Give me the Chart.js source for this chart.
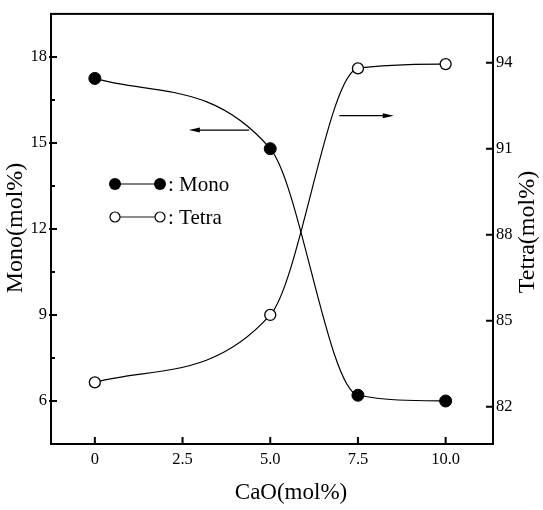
<!DOCTYPE html>
<html>
<head>
<meta charset="utf-8">
<script src="https://cdn.jsdelivr.net/npm/chart.js@4.4.1/dist/chart.umd.min.js"></script>
<style>
  html, body { margin: 0; padding: 0; background: #fff; }
  #wrap { width: 543px; height: 510px; }
</style>
</head>
<body>
<div id="wrap"><canvas id="caoChart" width="543" height="510"></canvas></div>
<script>
// CaO content (mol%)
const caoLevels = [0, 5.0, 7.5, 10.0];
// monoclinic fraction, left axis
const monoValues = [17.25, 14.8, 6.2, 6.0];
// tetragonal fraction, right axis
const tetraValues = [82.85, 85.2, 93.8, 93.95];

const xTicks = [0, 2.5, 5.0, 7.5, 10.0];
const xTickLabels = ['0', '2.5', '5.0', '7.5', '10.0'];
const monoTicks = [6, 9, 12, 15, 18];
const monoMinorTicks = [7.5, 10.5, 13.5, 16.5];
const tetraTicks = [82, 85, 88, 91, 94];

const serif = "'Liberation Serif', 'DejaVu Serif', serif";

function toPoints(xs, ys) {
  return xs.map((x, i) => ({ x: x, y: ys[i] }));
}

// Frame, inward ticks, arrows, legend and axis titles
const decorPlugin = {
  id: 'decor',
  afterDraw(chart) {
    const ctx = chart.ctx;
    const area = chart.chartArea;
    const xs = chart.scales.x, ys = chart.scales.y, ys1 = chart.scales.y1;
    ctx.save();
    ctx.strokeStyle = '#000';
    ctx.fillStyle = '#000';

    // box
    ctx.lineWidth = 2;
    ctx.strokeRect(area.left, area.top, area.right - area.left, area.bottom - area.top);

    // ticks
    ctx.lineWidth = 2;
    ctx.beginPath();
    xTicks.forEach(v => {
      const px = xs.getPixelForValue(v);
      ctx.moveTo(px, area.bottom);
      ctx.lineTo(px, area.bottom - 7);
    });
    monoTicks.forEach(v => {
      const py = ys.getPixelForValue(v);
      ctx.moveTo(area.left - 2, py);
      ctx.lineTo(area.left + 6, py);
    });
    monoMinorTicks.forEach(v => {
      const py = ys.getPixelForValue(v);
      ctx.moveTo(area.left, py);
      ctx.lineTo(area.left + 4, py);
    });
    tetraTicks.forEach(v => {
      const py = ys1.getPixelForValue(v);
      ctx.moveTo(area.right + 1, py);
      ctx.lineTo(area.right - 7, py);
    });
    ctx.stroke();

    // arrows pointing to the matching axis
    function arrow(x0, x1, py) {
      const p0 = xs.getPixelForValue(x0), p1 = xs.getPixelForValue(x1);
      const dir = p1 > p0 ? 1 : -1;
      ctx.lineWidth = 1.2;
      ctx.beginPath();
      ctx.moveTo(p0, py);
      ctx.lineTo(p1 - dir * 6, py);
      ctx.stroke();
      ctx.beginPath();
      ctx.moveTo(p1, py);
      ctx.lineTo(p1 - dir * 11, py - 2.5);
      ctx.lineTo(p1 - dir * 11, py + 2.5);
      ctx.closePath();
      ctx.fill();
    }
    arrow(4.4, 2.68, ys.getPixelForValue(15.45));
    arrow(6.97, 8.52, ys1.getPixelForValue(92.15));

    // legend
    ctx.font = '21px ' + serif;
    ctx.textBaseline = 'middle';
    ctx.textAlign = 'left';
    const lx0 = 115, lx1 = 160;
    ctx.lineWidth = 1.2;
    ctx.beginPath();
    ctx.moveTo(lx0, 184); ctx.lineTo(lx1, 184);
    ctx.stroke();
    [lx0, lx1].forEach(x => {
      ctx.beginPath();
      ctx.arc(x, 184, 6, 0, Math.PI * 2);
      ctx.fill();
    });
    ctx.fillText(': Mono', 168, 185);
    ctx.lineWidth = 0.9;
    ctx.beginPath();
    ctx.moveTo(lx0 + 5, 217); ctx.lineTo(lx1 - 5, 217);
    ctx.stroke();
    ctx.lineWidth = 1.2;
    [lx0, lx1].forEach(x => {
      ctx.beginPath();
      ctx.arc(x, 217, 5, 0, Math.PI * 2);
      ctx.fillStyle = '#fff';
      ctx.fill();
      ctx.stroke();
    });
    ctx.fillStyle = '#000';
    ctx.fillText(': Tetra', 168, 218);

    // axis titles
    ctx.textAlign = 'center';
    ctx.font = '23px ' + serif;
    ctx.fillText('CaO(mol%)', 291, 493);
    ctx.font = '24px ' + serif;
    ctx.save();
    ctx.translate(16, 228);
    ctx.rotate(-Math.PI / 2);
    ctx.fillText('Mono(mol%)', 0, 0);
    ctx.restore();
    ctx.save();
    ctx.translate(528, 232);
    ctx.rotate(-Math.PI / 2);
    ctx.fillText('Tetra(mol%)', 0, 0);
    ctx.restore();

    ctx.restore();
  }
};

const tickFont = { family: serif, size: 16.5 };

new Chart(document.getElementById('caoChart'), {
  type: 'scatter',
  data: {
    datasets: [{
      label: 'Mono',
      data: toPoints(caoLevels, monoValues),
      yAxisID: 'y',
      showLine: true,
      cubicInterpolationMode: 'monotone',
      borderColor: '#000',
      borderWidth: 1.2,
      pointRadius: 6,
      pointBackgroundColor: '#000',
      pointBorderColor: '#000',
      pointBorderWidth: 1
    }, {
      label: 'Tetra',
      data: toPoints(caoLevels, tetraValues),
      yAxisID: 'y1',
      showLine: true,
      cubicInterpolationMode: 'monotone',
      borderColor: '#000',
      borderWidth: 1.2,
      pointRadius: 5.5,
      pointBackgroundColor: '#fff',
      pointBorderColor: '#000',
      pointBorderWidth: 1.3
    }]
  },
  options: {
    responsive: false,
    animation: false,
    layout: { padding: { top: 8, left: 0, right: 0, bottom: 0 } },
    plugins: {
      legend: { display: false },
      tooltip: { enabled: false }
    },
    scales: {
      x: {
        type: 'linear',
        min: -1.25,
        max: 11.35,
        afterBuildTicks: s => { s.ticks = xTicks.map(v => ({ value: v })); },
        afterFit: s => { s.height = 66; },
        grid: { display: false, drawTicks: false },
        border: { display: false },
        ticks: {
          padding: 6,
          color: '#000',
          font: tickFont,
          callback: (v) => xTickLabels[xTicks.indexOf(v)]
        }
      },
      y: {
        type: 'linear',
        position: 'left',
        min: 4.5,
        max: 19.5,
        afterBuildTicks: s => { s.ticks = monoTicks.map(v => ({ value: v })); },
        afterFit: s => { s.width = 51; },
        grid: { display: false, drawTicks: false },
        border: { display: false },
        ticks: { padding: 4, color: '#000', font: tickFont }
      },
      y1: {
        type: 'linear',
        position: 'right',
        min: 80.7,
        max: 95.7,
        afterBuildTicks: s => { s.ticks = tetraTicks.map(v => ({ value: v })); },
        afterFit: s => { s.width = 50; },
        grid: { display: false, drawTicks: false },
        border: { display: false },
        ticks: { padding: 3, color: '#000', font: tickFont }
      }
    }
  },
  plugins: [decorPlugin]
});
</script>
</body>
</html>
